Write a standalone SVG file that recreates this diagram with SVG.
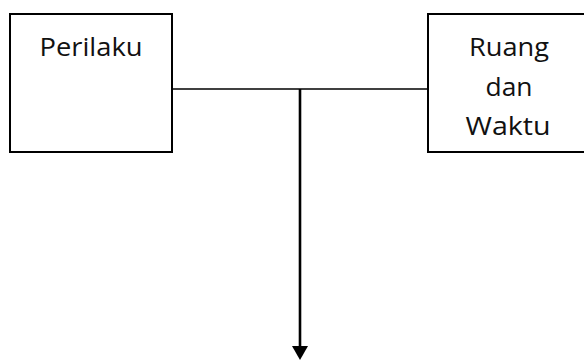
<svg xmlns="http://www.w3.org/2000/svg" width="584" height="360" viewBox="0 0 584 360">
<style>
.box{fill:#fff;stroke:#000;stroke-width:2}
.t{font-family:"Open Sans","Noto Sans","Liberation Sans",sans-serif;font-size:26px;fill:#111;text-anchor:middle}
.ln{stroke:#000;fill:none}
</style>
<rect width="584" height="360" fill="#fff"/>
<g id="connectors">
<line class="ln" x1="172" y1="89" x2="428" y2="89" stroke-width="1.6"/>
<line class="ln" x1="300" y1="89" x2="300" y2="348" stroke-width="2.6"/>
<polygon points="292,346 308,346 300,360" fill="#000"/>
</g>
<g id="perilaku">
<rect class="box" x="10" y="14" width="162" height="138"/>
<text class="t" x="91" y="56" textLength="103" lengthAdjust="spacingAndGlyphs">Perilaku</text>
</g>
<g id="ruang-dan-waktu">
<rect class="box" x="428" y="14" width="162" height="138"/>
<text class="t" x="509" y="56" textLength="80" lengthAdjust="spacingAndGlyphs">Ruang</text>
<text class="t" x="509" y="95.5" textLength="47" lengthAdjust="spacingAndGlyphs">dan</text>
<text class="t" x="508" y="135" textLength="85" lengthAdjust="spacingAndGlyphs">Waktu</text>
</g>
</svg>
